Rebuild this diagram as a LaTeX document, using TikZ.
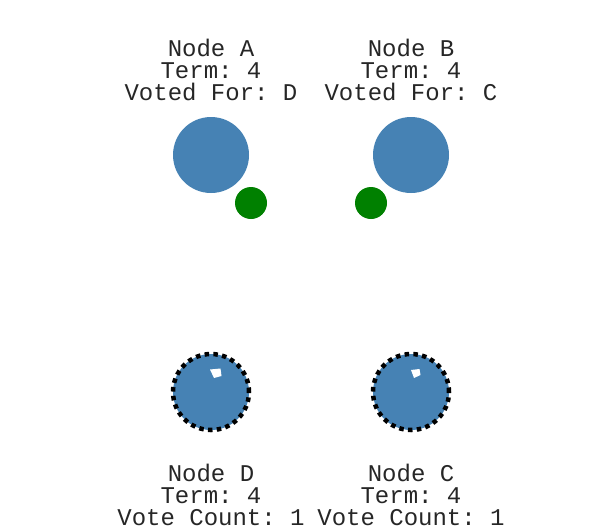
\documentclass[tikz,border=0pt]{standalone}
\usepackage{fontspec}
\setmonofont{Liberation Mono}
\definecolor{steel}{HTML}{4682B4}
\definecolor{vgreen}{HTML}{008000}
\tikzset{
  lbl/.style={font=\ttfamily\fontsize{24}{22}\selectfont, anchor=base, inner sep=0pt, text=black!85},
  srv/.style={circle, fill=steel, minimum size=76pt, inner sep=0pt},
  cand/.style={srv, draw=black, line width=4.5pt, dash pattern=on 4.5pt off 4.3pt},
  vote/.style={circle, fill=vgreen, minimum size=32pt, inner sep=0pt},
  tick/.style={fill=white, draw=none}
}
\begin{document}
\begin{tikzpicture}[x=1pt,y=-1pt]
\useasboundingbox (0,0) rectangle (609,525);
% top nodes
\node[lbl] (a1) at (211,56) {Node A};
\node[lbl] (a2) at (211,78) {Term: 4};
\node[lbl] (a3) at (211,100) {Voted For: D};
\node[lbl] (b1) at (411,56) {Node B};
\node[lbl] (b2) at (411,78) {Term: 4};
\node[lbl] (b3) at (411,100) {Voted For: C};
\node[srv] (A) at (211,155) {};
\node[srv] (B) at (411,155) {};
\node[vote] (va) at (251,203) {};
\node[vote] (vb) at (371,203) {};
% bottom nodes
\node[cand] (D) at (211,392) {};
\node[cand] (C) at (411,392) {};
\fill[tick] (210,369.5) -- (220.5,368.5) -- (221.5,376) -- (214,378) -- cycle;
\fill[tick] (411,370) -- (419.5,369) -- (420.5,375) -- (414,378) -- cycle;
\node[lbl] (d1) at (211,481) {Node D};
\node[lbl] (d2) at (211,503) {Term: 4};
\node[lbl] (d3) at (211,525) {Vote Count: 1};
\node[lbl] (c1) at (411,481) {Node C};
\node[lbl] (c2) at (411,503) {Term: 4};
\node[lbl] (c3) at (411,525) {Vote Count: 1};
\end{tikzpicture}
\end{document}
